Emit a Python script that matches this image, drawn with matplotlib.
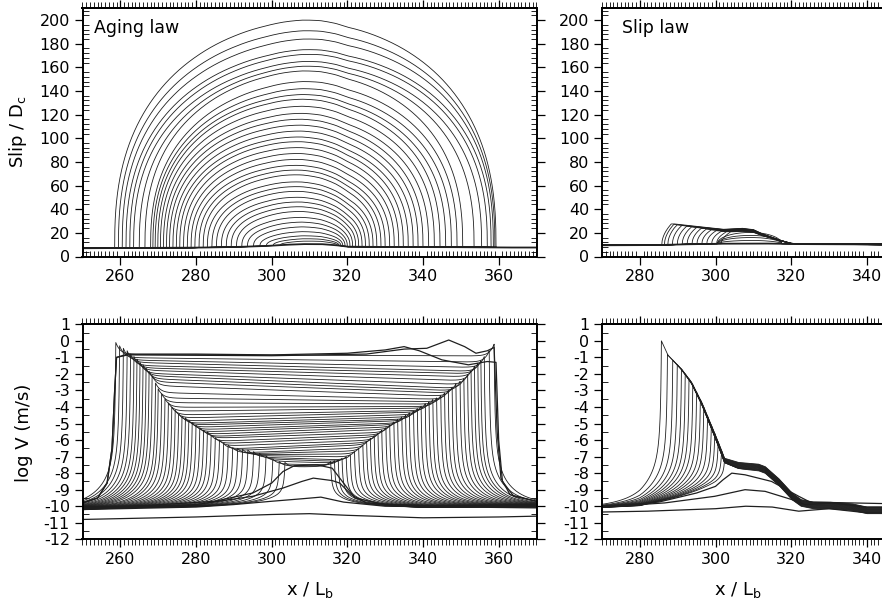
import matplotlib
matplotlib.use("Agg")
import matplotlib.pyplot as plt
import numpy as np
from matplotlib.ticker import MultipleLocator, FixedLocator

plt.rcParams['font.family'] = 'DejaVu Sans'
plt.rcParams['axes.unicode_minus'] = False

# ---------------- Aging law: slip contours ----------------
# peak slip (at x~309), left tip and right tip of each contour
aging_peak = [200, 191, 184, 175, 171, 165, 161, 157,
              148, 142, 137, 133, 127, 121, 116, 111, 106, 101, 97, 92,
              87, 82, 77, 73, 69, 63, 59, 55, 50, 46, 42, 38, 33, 29, 25,
              21, 17.5, 15, 13]
aging_left = [258.5, 259.5, 260.5, 261.5, 262.5, 263.5, 265.0, 266.5,
              268.0, 268.6, 269.2, 269.9, 270.6, 271.4, 272.2, 273.0, 273.9,
              274.8, 275.7, 276.7, 277.7, 278.7, 279.7, 280.8, 281.9, 283.0,
              284.2, 285.4, 286.7, 288.0, 289.3, 290.7, 292.1, 293.6, 295.2,
              296.9, 298.6, 300.4, 302.3]
aging_right = [359.3, 359.0, 358.6, 358.0, 357.0, 355.5, 353.5, 350.5,
               349.0, 347.5, 346.0, 344.5, 343.0, 341.5, 340.0, 338.7, 337.4,
               336.1, 334.8, 333.6, 332.4, 331.2, 330.0, 328.9, 327.8, 326.8,
               325.8, 324.8, 323.9, 323.0, 322.2, 321.4, 320.7, 320.0, 319.4,
               318.8, 318.3, 317.8, 317.4]
aging_base_x = [250, 265, 280, 290, 298, 303, 308, 313, 317, 320, 330, 345, 360, 370]
aging_base_s = [7.0, 7.2, 7.5, 8.0, 8.8, 9.8, 10.5, 10.5, 9.6, 8.3, 8.0, 8.0, 7.6, 7.6]

# ---------------- Slip law: slip contours ----------------
slip_base_x = [270, 284, 290, 300, 312, 318, 322, 335, 345, 390]
slip_base_s = [9.5, 9.6, 10.2, 10.8, 11.0, 10.8, 10.5, 10.4, 9.8, 9.8]
slip_top_x = [284, 289, 294, 302, 307, 310, 312, 316.3, 319.8, 323]
slip_top_s = [27.0, 27.6, 25.9, 23.0, 23.9, 22.8, 19.7, 14.6, 11.2, 10.6]
slip_tip = [301.5, 300.3, 299.0, 297.7, 296.4, 295.1, 293.8, 292.5,
            291.2, 289.9, 288.6, 287.4, 286.5, 285.8]
slip_scale = [0.80, 0.82, 0.84, 0.86, 0.88, 0.90, 0.92, 0.93,
              0.94, 0.95, 0.96, 0.97, 0.98, 1.00]
slip_dome_h = [2.6, 5.1, 6.9, 9.4]

# ---------------- Aging law: log V snapshots ----------------
front_left_x = [303.5, 302.0, 300.3, 298.5, 296.8, 295.2, 293.7, 292.3, 291.0,
                289.7, 288.5, 287.3, 286.2, 285.1, 284.0, 283.0, 282.0, 281.0,
                280.0, 279.0, 278.1, 277.2, 276.3, 275.4, 274.5, 273.6, 272.7,
                271.8, 270.9, 270.0, 269.3,
                268.4, 267.6, 266.8, 266.0, 265.2, 264.4, 263.6, 262.7, 261.8,
                260.8, 259.8, 258.8]
front_left_v = [-7.35, -7.3, -7.15, -6.95, -6.8, -6.7, -6.6, -6.55, -6.5,
                -6.45, -6.3, -6.2, -6.0, -5.85, -5.7, -5.5, -5.4, -5.25,
                -5.1, -4.95, -4.8, -4.65, -4.55, -4.4, -4.2, -4.0, -3.75,
                -3.5, -3.2, -2.9, -2.55,
                -2.1, -1.85, -1.65, -1.45, -1.3, -1.1, -0.95, -0.8, -0.6,
                -0.45, -0.3, -0.1]
front_right_x = [315.6, 316.6, 317.6, 318.6, 319.7, 320.8, 321.9, 323.0, 324.1,
                 325.1, 326.1, 327.1, 328.1, 329.1, 330.2, 331.2, 332.3, 333.3,
                 334.4, 335.4, 336.4, 337.5, 338.5, 339.5, 340.6, 341.6, 342.6,
                 343.6, 344.7, 345.7, 346.7, 347.7, 348.7, 349.8, 350.8, 351.8,
                 352.7, 353.6, 354.5, 355.3, 356.2, 357.5, 358.8]
front_right_v = [-7.3, -7.25, -7.2, -7.1, -7.0, -6.9, -6.7, -6.5, -6.3,
                 -6.1, -5.9, -5.75, -5.6, -5.4, -5.25, -5.1, -4.9, -4.75,
                 -4.6, -4.5, -4.35, -4.25, -4.1, -3.95, -3.8, -3.7, -3.55,
                 -3.45, -3.3, -3.15, -3.0, -2.8, -2.6, -2.45, -2.3, -2.05,
                 -1.8, -1.55, -1.35, -1.2, -0.95, -0.6, -0.2]
aging_bg_x = [250, 280, 300, 310, 320, 340, 370]
aging_bg_v = [-10.15, -10.05, -9.85, -9.75, -9.95, -10.1, -10.0]

# slow (pre-rupture) and post-arrest curves, read point by point
aging_slow = [
    ([250, 280, 300, 310, 320, 340, 360, 370],
     [-10.8, -10.65, -10.5, -10.45, -10.55, -10.7, -10.65, -10.6]),
    ([250, 280, 290, 300, 308, 313, 319, 330, 370],
     [-10.2, -10.05, -9.9, -9.7, -9.55, -9.45, -9.75, -10.0, -10.1]),
    ([250, 280, 295, 303, 308, 311, 316, 318, 321, 325, 340, 370],
     [-10.2, -9.9, -9.4, -8.9, -8.5, -8.3, -8.45, -8.6, -9.3, -9.8, -10.0, -10.05]),
    ([250, 285, 295, 300, 303, 306, 312, 316, 319, 322, 330, 370],
     [-10.2, -9.7, -9.2, -8.6, -7.9, -7.55, -7.5, -7.7, -8.6, -9.5, -9.9, -10.05]),
]
aging_waves = [
    ([250, 254, 256.5, 257.8, 258.5, 259.0, 262, 280, 300, 320, 330, 335, 339,
      345, 352, 357, 359.3, 360.0, 361.0, 364, 370],
     [-9.8, -9.5, -8.6, -6.5, -3.0, -1.0, -0.8, -0.8, -0.85, -0.75, -0.55,
      -0.35, -0.6, -1.15, -1.45, -1.25, -1.3, -6.0, -8.5, -9.4, -9.7]),
    ([250, 254, 256.5, 257.8, 258.5, 259.0, 262, 300, 325, 335, 341, 346.8,
      351, 354, 357, 358.8, 359.6, 360.6, 363, 370],
     [-9.8, -9.5, -8.6, -6.5, -3.0, -1.0, -0.85, -0.9, -0.8, -0.5, -0.45,
      0.05, -0.35, -0.75, -0.6, -0.4, -5.5, -8.3, -9.3, -9.7]),
]

# ---------------- Slip law: log V snapshots ----------------
slip_front_x = [302.4, 301.6, 300.7, 299.8, 298.9, 297.9, 296.9, 296.0, 295.0,
                294.0, 293.0, 292.0, 291.0, 289.9, 288.7, 287.3, 285.7]
slip_trail_x = [285.7, 287.4, 290.9, 293.6, 296.3, 298.9, 300.7, 302.4, 306.0,
                311.3, 313.1, 316.6, 320.2, 322.6, 325.8, 330, 336, 340, 390]
slip_trail_v = [0.0, -0.86, -1.67, -2.47, -3.68, -5.09, -6.1, -7.1, -7.35,
                -7.45, -7.6, -8.3, -9.2, -9.6, -9.75, -9.75, -9.85, -10.05, -10.05]
slip_pre_x = [270, 280, 285, 290, 295, 300, 303]
slip_pre_v = [-10.1, -10.0, -9.75, -9.5, -9.2, -8.85, -8.5]
slip_slow = [
    ([270, 282, 300, 308, 315, 322, 330, 340, 390],
     [-10.35, -10.3, -10.15, -10.0, -10.05, -10.3, -10.15, -10.4, -10.4]),
    ([270, 286.6, 299.8, 307.8, 313.1, 320.2, 323.7, 330.7, 339.6, 390],
     [-10.05, -9.8, -9.4, -9.0, -9.1, -9.6, -9.9, -9.8, -10.05, -10.05]),
    ([270, 285, 295, 300, 302, 304.3, 307.8, 314.8, 322, 325, 390],
     [-10.05, -9.75, -9.2, -8.8, -8.4, -8.0, -8.1, -8.5, -9.4, -9.75, -10.05]),
]

LC = '0.12'
LW = 0.6


def rise(d):
    return 0.8 / (1 + d / 0.25) + 0.2 * np.exp(-d / 5.0)


def style(ax, ymajor, yminor, xticks, bottom_minor):
    if xticks is None:
        major = MultipleLocator(20)
        major_top = MultipleLocator(20)
    else:
        major = FixedLocator(xticks)
        major_top = FixedLocator(xticks)
    ax.xaxis.set_major_locator(major)
    ax.xaxis.set_minor_locator(MultipleLocator(1))
    ax.yaxis.set_major_locator(MultipleLocator(ymajor))
    ax.yaxis.set_minor_locator(MultipleLocator(yminor))
    ax.tick_params(which='major', direction='out', length=6, width=0.9,
                   top=False, right=True, labelsize=11.5, pad=3)
    ax.tick_params(which='minor', direction='in', length=4, width=0.6,
                   top=False, right=True)
    ax.tick_params(axis='x', which='minor', direction=bottom_minor)
    for s in ax.spines.values():
        s.set_linewidth(1.4)
    sec = ax.secondary_xaxis('top')
    sec.xaxis.set_major_locator(major_top)
    sec.xaxis.set_minor_locator(MultipleLocator(1))
    sec.tick_params(which='major', direction='out', length=6, width=0.9,
                    labeltop=False)
    sec.tick_params(which='minor', direction='out', length=4, width=0.6)
    sec.spines['top'].set_linewidth(1.4)


fig = plt.figure(figsize=(8.82, 6.08), dpi=100)
W = 454 / 882
ax1 = fig.add_axes([82.5 / 882, 1 - 256.5 / 608, W, 248.2 / 608])
ax2 = fig.add_axes([602 / 882, 1 - 256.5 / 608, W, 248.2 / 608])
ax3 = fig.add_axes([82.5 / 882, 1 - 539.3 / 608, W, 215 / 608])
ax4 = fig.add_axes([602 / 882, 1 - 539.3 / 608, W, 215 / 608])

x = np.arange(250, 370.001, 0.05)
xs = np.arange(270, 390.001, 0.05)

# --- Aging law slip ---
base = np.interp(x, aging_base_x, aging_base_s)
ax1.plot(x, base, color=LC, lw=1.3)
for a, b, h in zip(aging_left, aging_right, aging_peak):
    c, w = (a + b) / 2, (b - a) / 2
    r = (x - c) / w
    prof = np.clip(1 - r ** 2, 0, None) ** 0.4
    hh = h - np.interp(c, aging_base_x, aging_base_s)
    ax1.plot(x, base + hh * prof, color=LC, lw=LW)

# --- Slip law slip ---
sbase = np.interp(xs, slip_base_x, slip_base_s)
top = np.interp(xs, slip_top_x, slip_top_s)
ax2.plot(xs, sbase, color=LC, lw=1.3)
for h in slip_dome_h:
    r = (xs - 309) / 8.5
    ax2.plot(xs, sbase + h * np.clip(1 - r ** 2, 0, None) ** 0.5, color=LC, lw=LW)
for a, s in zip(slip_tip, slip_scale):
    u = np.clip((xs - a) / 2.5, 0, 1)
    ax2.plot(xs, sbase + s * (top - sbase) * np.sqrt(u), color=LC, lw=LW)

# --- Aging law log V ---
bg = np.interp(x, aging_bg_x, aging_bg_v)
for xl, pl, xr, pr in zip(front_left_x, front_left_v, front_right_x, front_right_v):
    v = np.empty_like(x)
    lft = x < xl
    rgt = x > xr
    mid = ~lft & ~rgt
    v[lft] = bg[lft] + (pl - bg[lft]) * rise(xl - x[lft])
    v[rgt] = bg[rgt] + (pr - bg[rgt]) * rise(x[rgt] - xr)
    dl = 0.25 + 0.06 * (pl + 8)
    dr = 0.25 + 0.06 * (pr + 8)
    t = (x[mid] - xl) / (xr - xl)
    v[mid] = ((pl - dl) + ((pr - dr) - (pl - dl)) * t
              + dl * np.exp(-(x[mid] - xl) / 1.2) + dr * np.exp(-(xr - x[mid]) / 1.2))
    ax3.plot(x, v, color=LC, lw=LW)
for px, pv in aging_slow + aging_waves:
    ax3.plot(px, pv, color=LC, lw=0.9)

# --- Slip law log V ---
trail = np.interp(xs, slip_trail_x, slip_trail_v)
pre = np.interp(xs, slip_pre_x, slip_pre_v)
n = len(slip_front_x)
for k, xf in enumerate(slip_front_x):
    pf = np.interp(xf, slip_trail_x, slip_trail_v)
    off = 0.4 * (1 - k / (n - 1))
    v = np.empty_like(xs)
    lft = xs < xf
    v[lft] = pre[lft] + (pf - pre[lft]) * rise(xf - xs[lft])
    v[~lft] = trail[~lft] - off * (1 - np.exp(-(xs[~lft] - xf) / 1.5))
    ax4.plot(xs, v, color=LC, lw=LW)
for px, pv in slip_slow:
    ax4.plot(px, pv, color=LC, lw=0.9)

ax1.set_xlim(250, 370)
ax1.set_ylim(0, 210)
ax2.set_xlim(270, 390)
ax2.set_ylim(0, 210)
ax3.set_xlim(250, 370)
ax3.set_ylim(-12, 1)
ax4.set_xlim(270, 390)
ax4.set_ylim(-12, 1)
style(ax1, 20, 4, None, 'in')
style(ax2, 20, 4, [280, 300, 320, 340], 'in')
style(ax3, 1, 0.5, None, 'out')
style(ax4, 1, 0.5, [280, 300, 320, 340], 'out')

ax1.text(253, 189.3, 'Aging law', fontsize=12.5, va='baseline')
ax2.text(275.3, 189.3, 'Slip law', fontsize=12.5, va='baseline')

fig.text(0.0204, 0.783, 'Slip / D$_{\\mathregular{c}}$', rotation=90,
         ha='center', va='center', fontsize=13)
fig.text(0.0272, 0.288, 'log V (m/s)', rotation=90,
         ha='center', va='center', fontsize=13)
fig.text(0.3515, 0.0296, 'x / L$_{\\mathregular{b}}$', ha='center', va='center', fontsize=13)
fig.text(0.836, 0.0296, 'x / L$_{\\mathregular{b}}$', ha='center', va='center', fontsize=13)

fig.savefig('out.png', dpi=100)
